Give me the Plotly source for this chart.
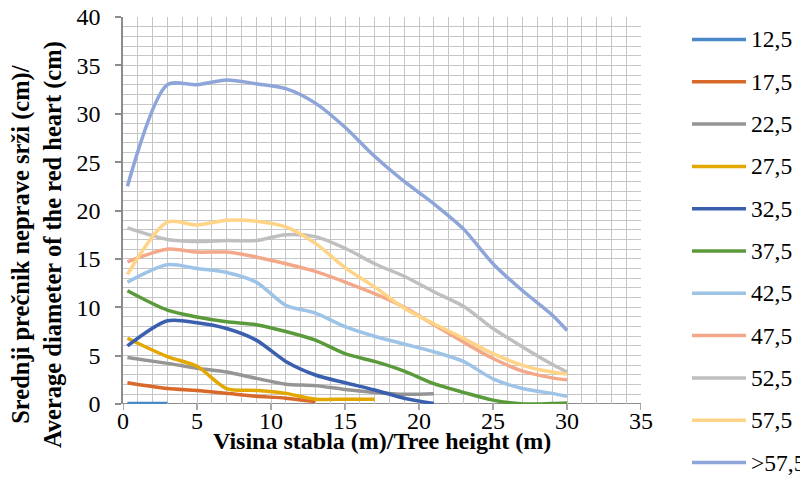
import plotly.graph_objects as go

heights = [0.3, 3, 5, 7, 9, 11, 13, 15, 17, 19, 21, 23, 25, 27, 29, 30]

series_names = ["12,5", "17,5", "22,5", "27,5", "32,5", "37,5",
                "42,5", "47,5", "52,5", "57,5", ">57,5"]

d_12_5 = [0.05, 0.05]
d_17_5 = [2.2, 1.6, 1.4, 1.1, 0.8, 0.6, 0.25]
d_22_5 = [4.8, 4.2, 3.7, 3.3, 2.65, 2.05, 1.9, 1.5, 1.2, 1.0, 1.05]
d_27_5 = [6.8, 4.9, 3.9, 1.6, 1.4, 1.1, 0.5, 0.5, 0.5]
d_32_5 = [6.0, 8.6, 8.4, 7.8, 6.6, 4.4, 3.0, 2.2, 1.45, 0.6, 0.05]
d_37_5 = [11.7, 9.7, 9.0, 8.5, 8.2, 7.5, 6.6, 5.2, 4.4, 3.4, 2.1, 1.2, 0.4, 0.0, 0.05, 0.1]
d_42_5 = [12.6, 14.4, 14.0, 13.6, 12.6, 10.2, 9.4, 8.0, 7.0, 6.2, 5.4, 4.4, 2.6, 1.6, 1.1, 0.8]
d_47_5 = [14.7, 16.0, 15.7, 15.7, 15.2, 14.5, 13.7, 12.6, 11.4, 10.0, 8.2, 6.4, 4.7, 3.4, 2.7, 2.5]
d_52_5 = [18.2, 17.0, 16.8, 16.9, 16.9, 17.5, 17.3, 16.1, 14.5, 13.2, 11.6, 10.1, 7.8, 5.9, 4.1, 3.3]
d_57_5 = [13.4, 18.8, 18.5, 19.0, 18.9, 18.3, 16.6, 14.1, 12.1, 9.9, 8.3, 6.8, 5.2, 4.0, 3.3, 3.1]
d_gt_57_5 = [22.5, 33.0, 33.0, 33.5, 33.1, 32.6, 31.1, 28.6, 25.6, 23.0, 20.7, 18.1, 14.5, 11.7, 9.2, 7.6]

series_values = [d_12_5, d_17_5, d_22_5, d_27_5, d_32_5, d_37_5,
                 d_42_5, d_47_5, d_52_5, d_57_5, d_gt_57_5]

colors = ["#4a89c8", "#d8692a", "#959595", "#e3a800", "#3a5fae", "#5a9a3b",
          "#9dc3e6", "#f4a88a", "#bfbfbf", "#ffd486", "#8ea5d9"]

x_ticks = [0, 5, 10, 15, 20, 25, 30, 35]
y_ticks = [0, 5, 10, 15, 20, 25, 30, 35, 40]

FONT = "Liberation Serif"

# figure geometry (the page adds an 8px body margin)
W, H = 800, 475
ML, MR, MT, MB = 115, 167, 9, 79
PW, PH = W - ML - MR, H - MT - MB

grid_col = "#c6c6c6"
axis_col = "#8c8c8c"

fig = go.Figure()
for name, vals, col in zip(series_names, series_values, colors):
    fig.add_trace(go.Scatter(
        x=heights[:len(vals)], y=vals, name=name, mode="lines",
        line=dict(color=col, width=3.5, shape="spline", smoothing=0.8),
        showlegend=False,
    ))

def px_to_paper_x(px):
    return (px - ML) / PW

def px_to_paper_y(py):
    return (H - MB - py) / PH

# manual legend (the library legend would scroll: it is taller than the plot area)
for i, (name, col) in enumerate(zip(series_names, colors)):
    yc = 31.5 + 42.3 * i
    fig.add_shape(type="line", xref="paper", yref="paper",
                  x0=px_to_paper_x(684), x1=px_to_paper_x(738),
                  y0=px_to_paper_y(yc), y1=px_to_paper_y(yc),
                  line=dict(color=col, width=3.5))
    fig.add_annotation(text=name, xref="paper", yref="paper",
                       x=px_to_paper_x(741), y=px_to_paper_y(yc),
                       xanchor="left", yanchor="middle", showarrow=False,
                       font=dict(family=FONT, size=23.5, color="black"))

# x axis line (drawn between grid and traces) and outside tick marks
fig.add_shape(type="line", xref="paper", yref="y", x0=0, x1=1, y0=0, y1=0,
              layer="between", line=dict(color=axis_col, width=2))
for v in x_ticks:
    fig.add_shape(type="line", xref="x", yref="paper", x0=v, x1=v,
                  y0=0, y1=-6 / PH, line=dict(color=axis_col, width=1.5))

fig.update_layout(
    width=W, height=H,
    margin=dict(l=ML, r=MR, t=MT, b=MB, autoexpand=False),
    paper_bgcolor="white", plot_bgcolor="white",
    font=dict(family=FONT, size=24, color="black"),
    showlegend=False,
    xaxis=dict(
        range=[0, 35], tickvals=x_ticks, ticktext=[str(v) for v in x_ticks],
        anchor="free", position=0,
        showgrid=True, gridcolor=grid_col, gridwidth=1,
        minor=dict(dtick=1, showgrid=True, gridcolor=grid_col, gridwidth=1),
        showline=False, ticks="", zeroline=False,
        tickfont=dict(family=FONT, size=24),
        ticklabeloverflow="allow",
    ),
    yaxis=dict(
        range=[0, 40], tickvals=y_ticks,
        ticktext=[str(v) + "\u2009\u2009" for v in y_ticks],
        showgrid=True, gridcolor=grid_col, gridwidth=1,
        minor=dict(dtick=1, showgrid=True, gridcolor=grid_col, gridwidth=1),
        showline=True, linecolor=axis_col, linewidth=2,
        ticks="outside", ticklen=6, tickcolor=axis_col, tickwidth=1.5,
        zeroline=False,
        tickfont=dict(family=FONT, size=24),
        ticklabeloverflow="allow",
    ),
)

fig.add_annotation(
    text="<b>Visina stabla (m)/Tree height (m)</b>",
    xref="paper", yref="paper", x=0.5, y=px_to_paper_y(433), xanchor="center", yanchor="middle",
    showarrow=False, font=dict(family=FONT, size=24, color="black"),
)

fig.add_annotation(
    text="<b>Srednji prečnik neprave srži (cm)/<br>Average diameter of the red heart (cm)</b>",
    xref="paper", yref="paper", x=px_to_paper_x(29), y=px_to_paper_y(237),
    xanchor="center", yanchor="middle",
    textangle=-90, showarrow=False,
    font=dict(family=FONT, size=24.5, color="black"),
)

fig.write_html("out.html")
